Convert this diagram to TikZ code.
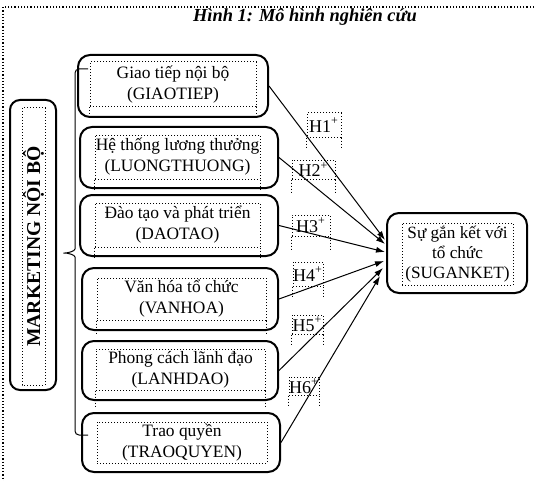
\documentclass[tikz,border=0pt]{standalone}
\usepackage{fontspec}
\setmainfont{Liberation Serif}
\usetikzlibrary{arrows.meta, positioning}

\begin{document}
\begin{tikzpicture}[x=0.5pt, y=-0.5pt, font=\fontsize{8.7}{10.5}\selectfont,
    b/.style={draw, line width=1pt, rounded corners=6pt, inner sep=0pt},
    fr/.style={draw, densely dotted, line width=0.5pt, inner sep=0pt, align=center},
    hl/.style={fr, font=\fontsize{9}{9}\selectfont},
    arr/.style={-{Latex[length=4.5pt, width=3pt]}, line width=0.5pt}]
    \useasboundingbox (0,0) rectangle (535,481);
    \draw[densely dotted, line width=0.6pt] (534,7) -- (3,7) -- (3,481);
    \node (title) at (305,17) {\fontsize{9.2}{10}\selectfont\bfseries\itshape Hình 1: Mô hình nghiên cứu};
    % left block
    \node[b, minimum width=23pt, minimum height=145pt, rounded corners=5pt] (mk) at (33,245) {};
    \node[fr, rotate=90, minimum width=138.5pt, minimum height=11.5pt, font=\fontsize{9.8}{10}\selectfont\bfseries] (mt) at (33.5,246.5) {MARKETING NỘI BỘ};
    \draw[line width=0.5pt, rounded corners=2pt] (88,69) -- (75,69) -- (75,245)
        to[out=-90, in=0] (61,253) to[out=0, in=90] (75,261) -- (75,435) -- (88,435);
    % factor boxes
    \node[b, minimum width=95pt, minimum height=31pt] (b1) at (173,86) {};
    \node[b, minimum width=99pt, minimum height=30.5pt] (b2) at (179,157.5) {};
    \node[b, minimum width=99pt, minimum height=30.5pt] (b3) at (179,225.5) {};
    \node[b, minimum width=98pt, minimum height=31pt] (b4) at (180,299) {};
    \node[b, minimum width=98pt, minimum height=29.5pt] (b5) at (180,370.5) {};
    \node[b, minimum width=99pt, minimum height=29.5pt] (b6) at (181,442.5) {};
    \node[fr, minimum width=83pt, minimum height=22.5pt] (t1) at (173,84.5) {Giao tiếp nội bộ\\(GIAOTIEP)};
    \node[fr, minimum width=82.5pt, minimum height=22pt] (t2) at (177.5,157) {Hệ thống lương thưởng\\(LUONGTHUONG)};
    \node[fr, minimum width=82.5pt, minimum height=22pt] (t3) at (177.5,225) {Đào tạo và phát triển\\(DAOTAO)};
    \node[fr, minimum width=84.5pt, minimum height=21pt] (t4) at (181.5,299) {Văn hóa tổ chức\\(VANHOA)};
    \node[fr, minimum width=84.5pt, minimum height=20.5pt] (t5) at (180.5,369.5) {Phong cách lãnh đạo\\(LANHDAO)};
    \node[fr, minimum width=85pt, minimum height=20.5pt] (t6) at (182,442.5) {Trao quyền\\(TRAOQUYEN)};
    \draw[fr] (t1.south west) -- ++(0,11) (t1.south east) -- ++(0,11);
    \draw[fr] (t2.south west) -- ++(0,11) (t2.south east) -- ++(0,11);
    \draw[fr] (t3.south west) -- ++(0,11) (t3.south east) -- ++(0,11);
    \draw[fr] (t4.south west) -- ++(0,13) (t4.south east) -- ++(0,13);
    \draw[fr] (t5.south west) -- ++(0,17) (t5.south east) -- ++(0,17);
    % outcome
    \node[b, minimum width=70pt, minimum height=40pt] (tgt) at (457,253) {};
    \node[fr, minimum width=55.5pt, minimum height=31pt, font=\fontsize{8.6}{10}\selectfont] (tt) at (457.5,254) {Sự gắn kết với\\tổ chức\\(SUGANKET)};
    % hypotheses
    \node[hl, minimum width=17pt, minimum height=12pt] (h1) at (324,125) {H1\textsuperscript{+}};
    \node[hl, minimum width=21.5pt, minimum height=9.5pt] (h2) at (313.5,169.5) {H2\textsuperscript{+}};
    \node[hl, minimum width=19pt, minimum height=10.5pt] (h3) at (311,225.5) {H3\textsuperscript{+}};
    \node[hl, minimum width=15pt, minimum height=12pt] (h4) at (308,274) {H4\textsuperscript{+}};
    \node[hl, minimum width=15.5pt, minimum height=9.5pt] (h5) at (307.5,324.5) {H5\textsuperscript{+}};
    \node[hl, minimum width=15pt, minimum height=9pt] (h6) at (304,386) {H6\textsuperscript{+}};
    \draw[fr] (h1.south west) -- ++(0,11) (h1.south east) -- ++(0,11);
    \draw[fr] (h2.south west) -- ++(0,15) (h2.south east) -- ++(0,15);
    \draw[fr] (h3.south west) -- ++(0,14) (h3.south east) -- ++(0,14);
    \draw[fr] (h4.south west) -- ++(0,12) (h4.south east) -- ++(0,12);
    \draw[fr] (h5.south west) -- ++(0,12) (h5.south east) -- ++(0,12);
    \draw[fr] (h6.south west) -- ++(0,12) (h6.south east) -- ++(0,12);
    \coordinate (e1) at (385,240);
    \coordinate (e2) at (385,244);
    \coordinate (e3) at (385,252);
    \coordinate (e4) at (384,261);
    \coordinate (e5) at (383,268);
    \coordinate (e6) at (380,276);
    \draw[arr] (b1.east) -- (e1);
    \draw[arr] (b2.east) -- (e2);
    \draw[arr] (b3.east) -- (e3);
    \draw[arr] (b4.east) -- (e4);
    \draw[arr] (b5.east) -- (e5);
    \draw[arr] (b6.east) -- (e6);
\end{tikzpicture}
\end{document}
